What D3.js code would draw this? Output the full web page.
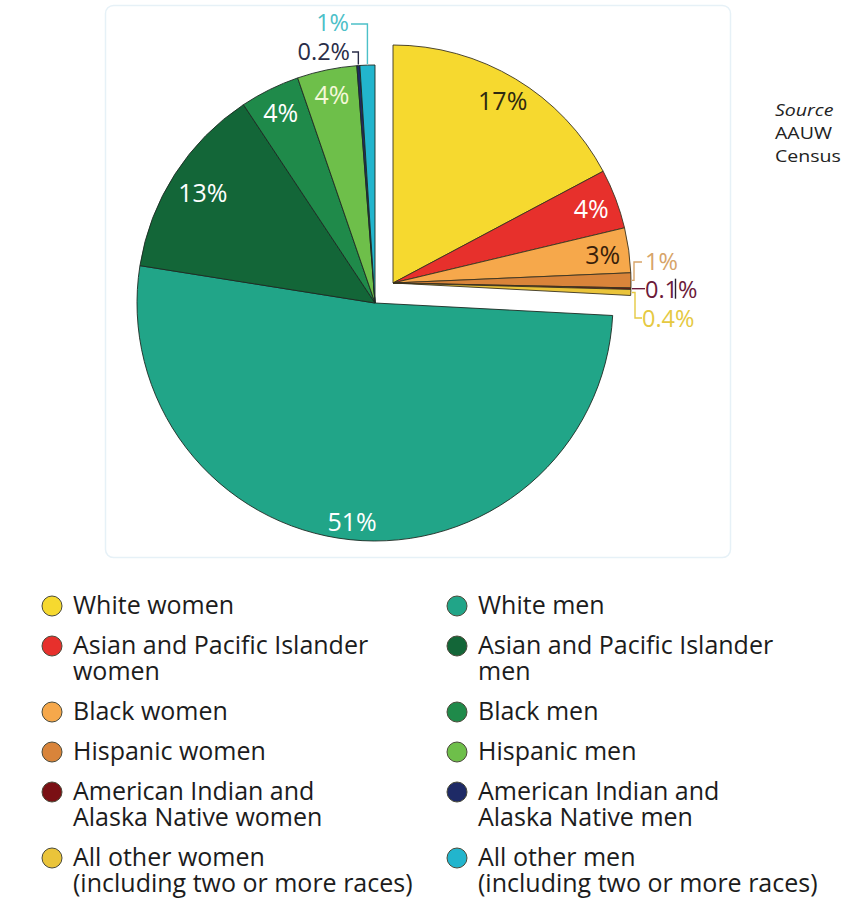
<!DOCTYPE html>
<html>
<head>
<meta charset="utf-8">
<script src="https://cdn.jsdelivr.net/npm/d3@7"></script>
<style>
  html, body { margin: 0; padding: 0; background: #fff; }
  svg { display: block; }
  text { font-family: "Open Sans", "DejaVu Sans", sans-serif; }
</style>
</head>
<body>
<svg id="chart" width="845" height="903"></svg>
<script>
// Share of group, women (exploded wedge) and men
const womenLabels = ["White women", "Asian and Pacific Islander women", "Black women",
  "Hispanic women", "American Indian and Alaska Native women",
  "All other women (including two or more races)"];
const womenValues = [17, 4, 3, 1, 0.1, 0.4];
const womenColors = ["#f6d92f", "#e7302c", "#f6a84b", "#d9843a", "#7a1014", "#eac43a"];

const menLabels = ["White men", "Asian and Pacific Islander men", "Black men",
  "Hispanic men", "American Indian and Alaska Native men",
  "All other men (including two or more races)"];
const menValues = [51, 13, 4, 4, 0.2, 1];
const menColors = ["#21a588", "#136638", "#1f8a4a", "#6ebf4a", "#1e2a66", "#22b5cd"];

// Legend text, broken into lines
const womenLegend = [["White women"], ["Asian and Pacific Islander", "women"], ["Black women"],
  ["Hispanic women"], ["American Indian and", "Alaska Native women"],
  ["All other women", "(including two or more races)"]];
const menLegend = [["White men"], ["Asian and Pacific Islander", "men"], ["Black men"],
  ["Hispanic men"], ["American Indian and", "Alaska Native men"],
  ["All other men", "(including two or more races)"]];

const sourceLines = ["Source", "AAUW", "Census"];

const svg = d3.select("#chart");

// faint frame around the pie area
svg.append("rect")
  .attr("x", 105.5).attr("y", 5.5).attr("width", 625).attr("height", 552)
  .attr("rx", 8)
  .attr("fill", "none").attr("stroke", "#e6f1f7").attr("stroke-width", 1.5);

const R = 238;
const total = d3.sum(womenValues) + d3.sum(menValues);
const angle = d3.scaleLinear().domain([0, total]).range([0, 2 * Math.PI]);

const womenEnd = angle(d3.sum(womenValues));
const pieW = d3.pie().sort(null).value(d => d).startAngle(0).endAngle(womenEnd);
const pieM = d3.pie().sort(null).value(d => d).startAngle(womenEnd).endAngle(2 * Math.PI);
const arc = d3.arc().innerRadius(0).outerRadius(R);

const cW = [393, 283];
const cM = [375, 303];
const aW = pieW(womenValues), aM = pieM(menValues);

const gM = svg.append("g").attr("transform", `translate(${cM})`);
gM.selectAll("path").data(aM).join("path")
  .attr("d", arc)
  .attr("fill", (d, i) => menColors[i])
  .attr("stroke", "#1d2a22").attr("stroke-width", 0.9).attr("stroke-linejoin", "round");

const gW = svg.append("g").attr("transform", `translate(${cW})`);
gW.selectAll("path").data(aW).join("path")
  .attr("d", arc)
  .attr("fill", (d, i) => womenColors[i])
  .attr("stroke", "#3a3320").attr("stroke-width", 0.9).attr("stroke-linejoin", "round");

// inner value labels: [series, index, radius factor, fill]
const inner = [
  ["w", 0, 0.895, "#2e2a10"],
  ["w", 1, 0.89, "#ffffff"],
  ["w", 2, 0.89, "#3a1f0a"],
  ["m", 0, 0.92, "#ffffff"],
  ["m", 1, 0.86, "#ffffff"],
  ["m", 2, 0.895, "#ffffff"],
  ["m", 3, 0.895, "#f4f8d8"]
];
const fmt = v => v + "%";
inner.forEach(([s, i, k, col]) => {
  const arcs = s === "w" ? aW : aM;
  const c = s === "w" ? cW : cM;
  const a = (arcs[i].startAngle + arcs[i].endAngle) / 2;
  svg.append("text")
    .attr("x", c[0] + Math.sin(a) * R * k).attr("y", c[1] - Math.cos(a) * R * k)
    .attr("text-anchor", "middle").attr("dominant-baseline", "central")
    .attr("font-size", 25).attr("fill", col)
    .text(fmt(s === "w" ? womenValues[i] : menValues[i]));
});

// outside labels for thin slices, with bracket leaders
function edgePoint(arcs, c, i, r) {
  const a = (arcs[i].startAngle + arcs[i].endAngle) / 2;
  return [c[0] + Math.sin(a) * r, c[1] - Math.cos(a) * r];
}
const leader = (pts, col) => svg.append("path")
  .attr("d", d3.line()(pts)).attr("fill", "none")
  .attr("stroke", col).attr("stroke-width", 1.4);
const outLabel = (x, y, anchor, col, txt) => svg.append("text")
  .attr("x", x).attr("y", y).attr("text-anchor", anchor).attr("dominant-baseline", "central")
  .attr("font-size", 23.5).attr("fill", col).text(txt);

// Hispanic women 1%
let p = edgePoint(aW, cW, 3, R);
leader([[p[0] + 1, p[1]], [634, p[1]], [634, 262], [642, 262]], "#d7a468");
outLabel(645, 261, "start", "#d7a468", fmt(womenValues[3]));

// American Indian women 0.1%
p = edgePoint(aW, cW, 4, R);
leader([[p[0] + 1, p[1]], [645, p[1]]], "#6b1a3a");
outLabel(645, p[1], "start", "#6b1a3a", fmt(womenValues[4]));
svg.append("line").attr("x1", 675.5).attr("x2", 675.5).attr("y1", p[1] - 10).attr("y2", p[1] + 10)
  .attr("stroke", "#2a2030").attr("stroke-width", 1.4);

// All other women 0.4%
p = edgePoint(aW, cW, 5, R);
leader([[p[0] + 1, p[1]], [635, p[1]], [635, 318], [642, 318]], "#e5c942");
outLabel(642, 318, "start", "#e5c942", fmt(womenValues[5]));

// American Indian men 0.2%
p = edgePoint(aM, cM, 4, R);
leader([[p[0], p[1] - 1], [p[0], 52], [352, 52]], "#2a2d48");
outLabel(350, 51, "end", "#2a2d48", fmt(menValues[4]));

// All other men 1%
p = edgePoint(aM, cM, 5, R);
leader([[p[0], p[1] - 1], [p[0], 24], [351, 24]], "#4cc0c8");
outLabel(349, 22, "end", "#4cc0c8", fmt(menValues[5]));

// Source note at the right margin (slightly widened type)
svg.append("g").attr("transform", "translate(775,0) scale(1.15,1)")
  .selectAll("text").data(sourceLines).join("text")
  .attr("x", 0).attr("y", (d, i) => 116 + i * 23)
  .attr("font-family", "Liberation Sans, Arial, sans-serif")
  .attr("font-size", 17).attr("fill", "#222")
  .attr("font-style", (d, i) => i === 0 ? "italic" : "normal")
  .text(d => d);

// Legend
function legend(x0, items, colors) {
  let y = 614;
  items.forEach((lines, i) => {
    const g = svg.append("g");
    g.append("circle").attr("cx", x0).attr("cy", y - 8).attr("r", 10)
      .attr("fill", colors[i]).attr("stroke", "#4a4a3a").attr("stroke-width", 1);
    g.append("text")
      .attr("x", x0 + 21).attr("y", y)
      .attr("font-size", 25).attr("fill", "#1c1c1c")
      .selectAll("tspan").data(lines).join("tspan")
      .attr("x", x0 + 21).attr("dy", (d, j) => j === 0 ? 0 : 26)
      .text(d => d);
    y += (lines.length - 1) * 26 + 40;
  });
}
legend(52, womenLegend, womenColors);
legend(457, menLegend, menColors);
</script>
</body>
</html>
